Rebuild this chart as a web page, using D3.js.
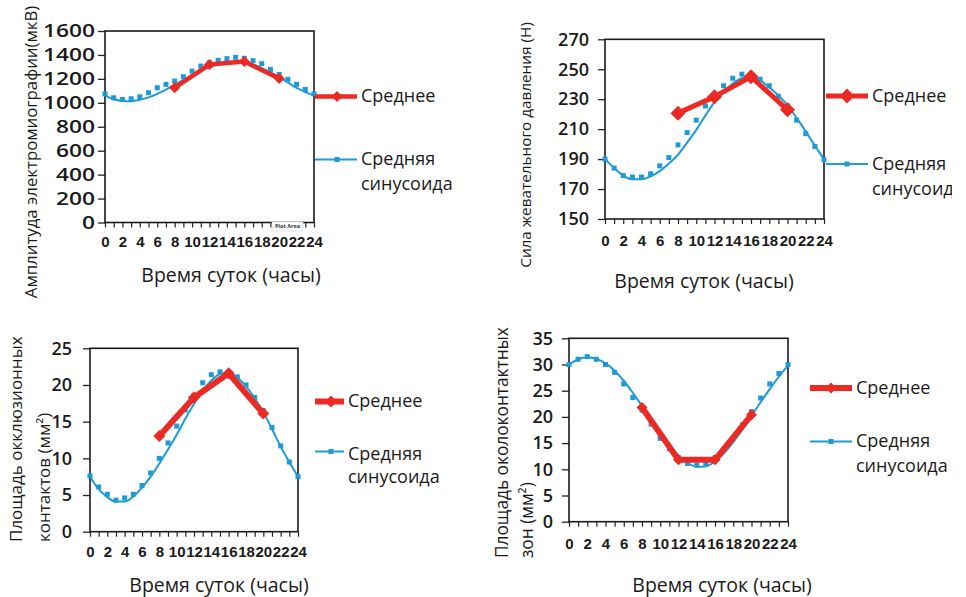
<!DOCTYPE html>
<html><head><meta charset="utf-8">
<script src="https://cdn.jsdelivr.net/npm/d3@7"></script>
<style>
html,body{margin:0;padding:0;background:#fff;}
svg{display:block;font-family:"Open Sans","Noto Sans",sans-serif;}
</style></head>
<body>
<svg id="c" width="966" height="597"></svg>
<script>
// ---------- DATA ----------
const hours = [0,1,2,3,4,5,6,7,8,9,10,11,12,13,14,15,16,17,18,19,20,21,22,23,24];
const meanHours = [8,12,16,20];
const xTickLabels = ["0","2","4","6","8","10","12","14","16","18","20","22","24"];

// Panel 1: амплитуда ЭМГ (мкВ)
const emgSinPoints = [1075,1042,1028,1034,1050,1084,1126,1154,1182,1218,1265,1307,1335,1355,1369,1380,1372,1352,1327,1279,1237,1196,1154,1112,1075];
const emgSinCurve  = [1060,1030,1016,1014,1025,1045,1075,1110,1150,1190,1230,1270,1300,1325,1340,1345,1340,1320,1290,1255,1215,1170,1125,1090,1060];
const emgMean      = [1126,1320,1345,1204];
const emgTicks     = [0,200,400,600,800,1000,1200,1400,1600];

// Panel 2: сила жевательного давления (Н)
const forceSinPoints = [190,184,179,178,178,180.2,185.5,191,199.5,207.7,216,225.5,233,239,244,246.7,246.7,243.3,239,232,225.5,216,207,198.5,189.5];
const forceSinCurve  = [190,184,179,176.5,176.5,178.5,182,187,193,201,209.5,219,228,235,240.5,244,245,242.5,238,232.5,226,217.5,208.5,199,190];
const forceMean      = [220.7,231.7,245,222.9];
const forceTicks     = [150,170,190,210,230,250,270];

// Panel 3: площадь окклюзионных контактов (мм2)
const occlSinPoints = [7.6,6.1,5.1,4.3,4.6,5.1,6.3,8.0,10.0,12.1,14.4,16.6,18.6,20.3,21.4,21.8,21.7,21.1,20.0,18.3,16.5,14.2,11.7,9.5,7.5];
const occlSinCurve  = [7.5,5.8,4.7,4.1,4.1,4.8,6.0,7.5,9.3,11.2,13.2,15.4,17.4,19.2,20.6,21.5,21.7,21.0,19.8,18.2,16.3,14.0,11.6,9.5,7.5];
const occlMean      = [13.05,18.3,21.6,16.1];
const occlTicks     = [0,5,10,15,20,25];

// Panel 4: площадь околоконтактных зон (мм2)
const periSinPoints = [30.0,31.0,31.5,31.0,30.0,28.5,26.3,23.7,21.3,18.6,15.9,13.9,12.2,11.1,10.8,11.1,12.2,13.8,15.9,18.5,21.0,23.6,26.3,28.3,30.0];
const periSinCurve  = [30.0,31.0,31.4,31.1,30.2,28.8,26.9,24.6,22.1,19.5,16.9,14.6,12.6,11.2,10.5,10.6,11.5,13.1,15.2,17.6,20.2,22.8,25.3,27.7,29.8];
const periMean      = [21.8,11.8,11.8,20.4];
const periTicks     = [0,5,10,15,20,25,30,35];

const xTitle = "Время суток (часы)";
const legendMean = "Среднее";
const legendSin = ["Средняя", "синусоида"];

// ---------- LAYOUT ----------
const RED = "#ec2a23", BLUE = "#1e9ad8";
const panels = [
  {pts:emgSinPoints, curve:emgSinCurve, mean:emgMean, ticks:emgTicks,
   box:[105,314,31,222.5], yPad:3, xPad:9, yFont:17.5, digitW:13,
   yTitle:["Амплитуда электромиографии(мкВ)"], yTitleX:[32], yTitleY:152, yTitleAnchor:"middle", yTitleFont:16.8,
   xTitleX:231, xTitleY:277, diamond:11, meanW:4.5,
   leg:{x0:315,x1:357,mk:337,ty:96.5,by:159.5,tx:361,s1:160,s2:185}},
  {pts:forceSinPoints, curve:forceSinCurve, mean:forceMean, ticks:forceTicks,
   box:[605,824,39.3,219], yPad:9, xPad:11, yFont:18,
   yTitle:["Сила жевательного давления (Н)"], yTitleX:[527], yTitleY:145, yTitleAnchor:"middle", yTitleFont:15.3,
   xTitleX:704, xTitleY:283, diamond:15, meanW:5,
   leg:{x0:826,x1:868,mk:847,ty:96,by:164,tx:872,s1:165,s2:190}, clip:952},
  {pts:occlSinPoints, curve:occlSinCurve, mean:occlMean, ticks:occlTicks,
   box:[90,298,348.3,531.7], yPad:11, xPad:10, yFont:18,
   yTitle:["Площадь окклюзионных","контактов (мм²)"], yTitleX:[17,45], yTitleY:542, yTitleAnchor:"start", yTitleFont:17,
   xTitleX:219, xTitleY:587, diamond:12, meanW:6,
   leg:{x0:315,x1:344,mk:331,ty:401.5,by:451.5,tx:348,s1:455,s2:478}},
  {pts:periSinPoints, curve:periSinCurve, mean:periMean, ticks:periTicks,
   box:[569,788,338.3,521.7], yPad:9, xPad:12, yFont:18,
   yTitle:["Площадь околоконтактных","зон (мм²)"], yTitleX:[503,528], yTitleY:558, yTitleAnchor:"start", yTitleFont:17.3,
   xTitleX:722, xTitleY:587, diamond:11, meanW:6,
   leg:{x0:810,x1:852,mk:831,ty:388,by:441.5,tx:856,s1:442,s2:467}}
];

const svg = d3.select("#c");

panels.forEach((p,i)=>{
  const [x0,x1,y0,y1] = p.box;
  const x = d3.scaleLinear().domain([hours[0], hours[hours.length-1]]).range([x0,x1]);
  const y = d3.scaleLinear().domain([p.ticks[0], p.ticks[p.ticks.length-1]]).range([y1,y0]);
  const g = svg.append("g");

  // y axis
  const ya = g.append("g").attr("transform",`translate(${x0},0)`)
    .call(d3.axisLeft(y).tickValues(p.ticks).tickSize(7).tickPadding(p.yPad).tickFormat(d=>String(d)));
  ya.select(".domain").remove();
  ya.selectAll("line").attr("stroke","#222").attr("stroke-width",1.3);
  const yt = ya.selectAll("text").attr("font-size",p.yFont).attr("fill","#1a1a1a")
    .attr("font-family","'Open Sans',sans-serif").attr("font-weight",600);
  if (p.digitW) {
    yt.attr("textLength",function(){ return this.textContent.length*p.digitW; })
      .attr("lengthAdjust","spacingAndGlyphs");
  }

  // x axis
  const xa = g.append("g").attr("transform",`translate(0,${y1})`)
    .call(d3.axisBottom(x).tickValues(hours).tickSize(5).tickPadding(p.xPad)
      .tickFormat(d=> xTickLabels.includes(String(d)) ? String(d) : ""));
  xa.select(".domain").remove();
  xa.selectAll("line").attr("stroke","#222").attr("stroke-width",1.2);
  xa.selectAll("text").attr("font-size",15).attr("font-weight",700).attr("fill","#1a1a1a")
    .attr("font-family","'Liberation Sans',sans-serif");

  // frame
  g.append("rect").attr("x",x0).attr("y",y0).attr("width",x1-x0).attr("height",y1-y0)
    .attr("fill","none").attr("stroke","#1a1a1a").attr("stroke-width",1.6);

  // sinusoid curve
  g.append("path").datum(p.curve)
    .attr("d", d3.line().x((d,j)=>x(hours[j])).y(d=>y(d)).curve(d3.curveMonotoneX))
    .attr("fill","none").attr("stroke",BLUE).attr("stroke-width",2);
  g.selectAll("rect.sp").data(p.pts).join("rect").attr("class","sp")
    .attr("x",(d,j)=>x(hours[j])-2.5).attr("y",d=>y(d)-2.5).attr("width",5).attr("height",5)
    .attr("fill",BLUE);

  // mean line
  g.append("path").datum(p.mean)
    .attr("d", d3.line().x((d,j)=>x(meanHours[j])).y(d=>y(d)))
    .attr("fill","none").attr("stroke",RED).attr("stroke-width",p.meanW).attr("stroke-linejoin","round");
  const s = p.diamond/2;
  g.selectAll("path.dm").data(p.mean).join("path").attr("class","dm")
    .attr("d",(d,j)=>{const cx=x(meanHours[j]), cy=y(d); return `M${cx},${cy-s}L${cx+s},${cy}L${cx},${cy+s}L${cx-s},${cy}Z`;})
    .attr("fill",RED);

  // titles
  g.append("text").attr("x",p.xTitleX).attr("y",p.xTitleY).attr("text-anchor","middle")
    .attr("dominant-baseline","middle").attr("font-size",19.5).attr("fill","#1a1a1a").text(xTitle);
  p.yTitle.forEach((t,k)=>{
    g.append("text").attr("transform",`translate(${p.yTitleX[k]},${p.yTitleY}) rotate(-90)`)
      .attr("text-anchor",p.yTitleAnchor).attr("dominant-baseline","middle")
      .attr("font-size",p.yTitleFont).attr("fill","#1a1a1a").text(t);
  });

  // legend
  const L = p.leg;
  const lg = svg.append("g");
  if (p.clip) {
    svg.append("clipPath").attr("id","clip"+i).append("rect").attr("x",0).attr("y",0).attr("width",p.clip).attr("height",597);
    lg.attr("clip-path",`url(#clip${i})`);
  }
  lg.append("line").attr("x1",L.x0).attr("x2",L.x1).attr("y1",L.ty).attr("y2",L.ty)
    .attr("stroke",RED).attr("stroke-width",p.meanW);
  lg.append("path").attr("d",`M${L.mk},${L.ty-s}L${L.mk+s},${L.ty}L${L.mk},${L.ty+s}L${L.mk-s},${L.ty}Z`).attr("fill",RED);
  lg.append("line").attr("x1",L.x0).attr("x2",L.x1).attr("y1",L.by).attr("y2",L.by)
    .attr("stroke",BLUE).attr("stroke-width",2);
  lg.append("rect").attr("x",L.mk-2.5).attr("y",L.by-2.5).attr("width",5).attr("height",5).attr("fill",BLUE);
  lg.append("text").attr("x",L.tx).attr("y",L.ty+1).attr("dominant-baseline","middle")
    .attr("font-size",18).attr("fill","#1a1a1a").text(legendMean);
  lg.append("text").attr("x",L.tx).attr("y",L.s1).attr("dominant-baseline","middle")
    .attr("font-size",18).attr("fill","#1a1a1a").text(legendSin[0]);
  lg.append("text").attr("x",L.tx).attr("y",L.s2).attr("dominant-baseline","middle")
    .attr("font-size",18).attr("fill","#1a1a1a").text(legendSin[1]);
});

// small "Plot Area" tooltip artifact in panel 1
const pa = svg.append("g");
pa.append("rect").attr("x",272).attr("y",222).attr("width",31).attr("height",9)
  .attr("fill","#fff").attr("stroke","#ccc").attr("stroke-width",0.6);
pa.append("text").attr("x",287.5).attr("y",227).attr("text-anchor","middle").attr("dominant-baseline","middle")
  .attr("font-size",5.5).attr("font-weight",700).attr("fill","#333").text("Plot Area");
</script>
</body></html>
